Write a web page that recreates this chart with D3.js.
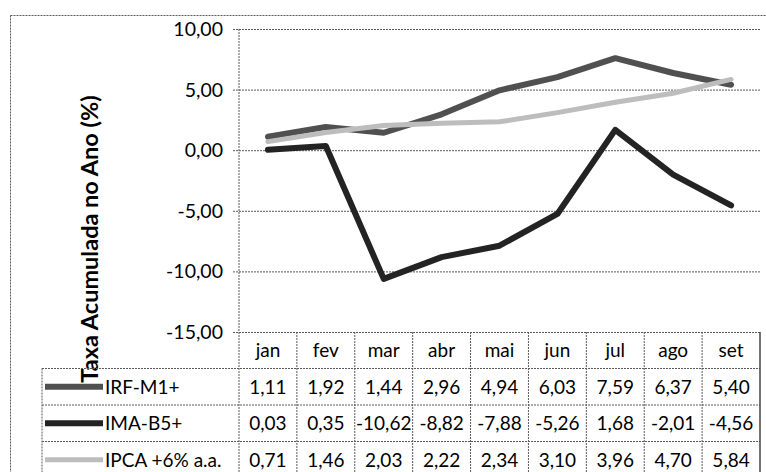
<!DOCTYPE html>
<html>
<head>
<meta charset="utf-8">
<script src="https://cdn.jsdelivr.net/npm/d3@7/dist/d3.min.js"></script>
<style>
  html, body { margin: 0; padding: 0; background: #fff; }
  svg { display: block; }
  text { font-family: Lato, "Open Sans", sans-serif; fill: #000; }
</style>
</head>
<body>
<svg id="chart" width="766" height="472"></svg>
<script>
const months = ["jan", "fev", "mar", "abr", "mai", "jun", "jul", "ago", "set"];
const seriesNames = ["IRF-M1+", "IMA-B5+", "IPCA +6% a.a."];
const irfM1 = [1.11, 1.92, 1.44, 2.96, 4.94, 6.03, 7.59, 6.37, 5.40];
const imaB5 = [0.03, 0.35, -10.62, -8.82, -7.88, -5.26, 1.68, -2.01, -4.56];
const ipca6 = [0.71, 1.46, 2.03, 2.22, 2.34, 3.10, 3.96, 4.70, 5.84];
const yTicks = [10, 5, 0, -5, -10, -15];
const yTitle = "Taxa Acumulada no Ano (%)";

const series = [
  { name: seriesNames[0], values: irfM1, color: "#505050", width: 6 },
  { name: seriesNames[1], values: imaB5, color: "#232323", width: 6 },
  { name: seriesNames[2], values: ipca6, color: "#bdbdbd", width: 5 }
];

const svg = d3.select("#chart");
const locale = d3.formatLocale({ decimal: ",", thousands: ".", grouping: [3], currency: ["R$", ""], minus: "-" });
const fmt = locale.format(".2f");

const plotLeft = 239, plotRight = 760, plotTop = 29, plotBottom = 332;
const rowH = 36.5;
const legendLeft = 42;

const x = d3.scaleBand().domain(months).range([plotLeft, plotRight]).padding(0);
const y = d3.scaleLinear().domain([-15, 10]).range([plotBottom, plotTop]);

const gridStyle = sel => sel.attr("stroke", "#5a5a5a").attr("stroke-width", 1).attr("stroke-dasharray", "2,1");

// outer chart border
svg.append("rect").attr("x", 10.5).attr("y", 15.5).attr("width", 800).attr("height", 500)
  .attr("fill", "none").call(gridStyle);

// y axis with gridlines
const yAxis = d3.axisLeft(y).tickValues(yTicks).tickFormat(fmt)
  .tickSizeInner(-(plotRight - plotLeft)).tickSizeOuter(0).tickPadding(16);
const gy = svg.append("g").attr("transform", `translate(${plotLeft},0)`).call(yAxis);
gy.select(".domain").remove();
gy.selectAll(".tick line").attr("x1", -6).call(gridStyle);
gy.selectAll(".tick text").attr("font-family", "Lato, sans-serif").attr("font-size", 19.5).attr("fill", "#000").attr("dy", "0.33em");

// vertical axis line (extends into table)
const tableBottom = plotBottom + rowH * 4;
svg.append("line").attr("x1", plotLeft).attr("x2", plotLeft).attr("y1", plotTop).attr("y2", tableBottom).call(gridStyle);

// y title
svg.append("text")
  .attr("transform", `translate(98,239) rotate(-90)`)
  .attr("text-anchor", "middle")
  .attr("font-family", "Lato, sans-serif")
  .attr("font-weight", "bold")
  .attr("font-size", 23.5)
  .text(yTitle);

// data table
const tbl = svg.append("g");
for (let i = 1; i <= 3; i++) {
  const yy = plotBottom + rowH * i;
  tbl.append("line").attr("x1", legendLeft).attr("x2", plotRight).attr("y1", yy).attr("y2", yy).call(gridStyle);
}
months.forEach((m, i) => {
  if (i === 0) return;
  tbl.append("line").attr("x1", x(m)).attr("x2", x(m)).attr("y1", plotBottom).attr("y2", tableBottom).call(gridStyle);
});
tbl.append("line").attr("x1", plotRight).attr("x2", plotRight).attr("y1", plotBottom).attr("y2", tableBottom)
  .attr("stroke", "#444").attr("stroke-width", 1.5);
tbl.append("line").attr("x1", legendLeft).attr("x2", legendLeft).attr("y1", plotBottom + rowH).attr("y2", tableBottom).call(gridStyle);

// header
tbl.selectAll("text.hdr").data(months).join("text").attr("class", "hdr")
  .attr("x", d => x(d) + x.bandwidth() / 2)
  .attr("y", plotBottom + rowH / 2 + 7)
  .attr("text-anchor", "middle").attr("font-size", 19)
  .text(d => d);

// rows
series.forEach((s, r) => {
  const cy = plotBottom + rowH * (r + 1) + rowH / 2;
  tbl.append("line").attr("x1", 45).attr("x2", 103).attr("y1", cy).attr("y2", cy)
    .attr("stroke", s.color).attr("stroke-width", s.width);
  tbl.append("text").attr("x", 105).attr("y", cy + 7).attr("font-size", 19).text(s.name);
  tbl.selectAll(`text.v${r}`).data(s.values).join("text").attr("class", `v${r}`)
    .attr("x", (d, i) => x(months[i]) + x.bandwidth() / 2)
    .attr("y", cy + 7)
    .attr("text-anchor", "middle").attr("font-size", 19)
    .text(d => fmt(d));
});

// lines
const line = d3.line().x((d, i) => x(months[i]) + x.bandwidth() / 2).y(d => y(d));
series.forEach(s => {
  svg.append("path").datum(s.values).attr("d", line)
    .attr("fill", "none").attr("stroke", s.color).attr("stroke-width", s.width)
    .attr("stroke-linejoin", "round").attr("stroke-linecap", "round");
});
</script>
</body>
</html>
